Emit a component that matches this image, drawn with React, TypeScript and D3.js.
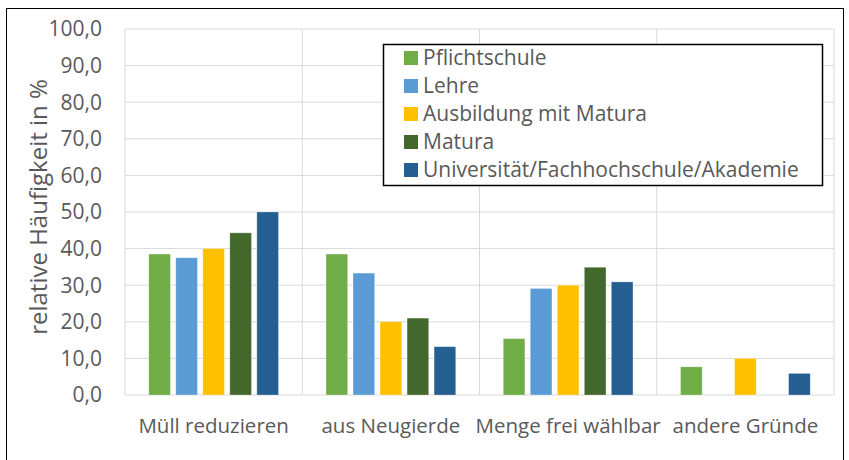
import React from "react";
import * as d3 from "d3";

const categories = ["Müll reduzieren", "aus Neugierde", "Menge frei wählbar", "andere Gründe"];
const seriesNames = [
  "Pflichtschule",
  "Lehre",
  "Ausbildung mit Matura",
  "Matura",
  "Universität/Fachhochschule/Akademie",
];
const colors = ["#70AD47", "#5B9BD5", "#FFC000", "#43682B", "#255E91"];

// values per series, in category order
const pflichtschule = [38.5, 38.5, 15.4, 7.7];
const lehre = [37.5, 33.3, 29.1, 0];
const ausbildungMatura = [40.0, 20.0, 30.0, 10.0];
const matura = [44.3, 21.0, 34.9, 0];
const uni = [50.0, 13.2, 30.9, 5.9];
const seriesValues = [pflichtschule, lehre, ausbildungMatura, matura, uni];

const yTicks = [0, 10, 20, 30, 40, 50, 60, 70, 80, 90, 100];

const W = 849;
const H = 460;
const margin = { top: 29, right: 15, bottom: 65, left: 125 };
const font = "'Open Sans', sans-serif";
const textColor = "#595959";

export default function App() {
  const plotW = W - margin.left - margin.right;
  const plotH = H - margin.top - margin.bottom;

  const x0 = d3.scaleBand<string>().domain(categories).range([0, plotW]).padding(0);
  const x1 = d3
    .scaleBand<number>()
    .domain(d3.range(seriesNames.length))
    .range([0, x0.bandwidth()])
    .paddingInner(0.2)
    .paddingOuter(0.88);
  const y = d3.scaleLinear().domain([0, 100]).range([plotH, 0]);
  const fmt = (v: number) => v.toFixed(1).replace(".", ",");

  return (
    <svg
      width={W}
      height={H}
      style={{ position: "absolute", left: 0, top: 0, background: "#fff" }}
      fontFamily={font}
    >
      <rect x={6.5} y={8.5} width={837} height={460} fill="none" stroke="#000" strokeWidth={1} />
      <g transform={`translate(${margin.left},${margin.top})`}>
        {yTicks.map((t) => (
          <line key={"g" + t} x1={0} x2={plotW} y1={y(t)} y2={y(t)} stroke="#d9d9d9" strokeWidth={1} />
        ))}
        {categories.map((c) => (
          <line
            key={"v" + c}
            x1={x0(c)!}
            x2={x0(c)!}
            y1={0}
            y2={plotH}
            stroke="#d9d9d9"
            strokeWidth={1}
          />
        ))}
        <line x1={plotW} x2={plotW} y1={0} y2={plotH} stroke="#d9d9d9" strokeWidth={1} />
        {yTicks.map((t) => (
          <text
            key={"t" + t}
            x={-23}
            y={y(t)}
            dy="0.35em"
            textAnchor="end"
            fontSize={21}
            fill={textColor}
          >
            {fmt(t)}
          </text>
        ))}
        {categories.map((c, ci) => (
          <g key={c} transform={`translate(${x0(c)},0)`}>
            {seriesValues.map((vals, si) =>
              vals[ci] > 0 ? (
                <rect
                  key={si}
                  x={x1(si)!}
                  y={y(vals[ci])}
                  width={x1.bandwidth()}
                  height={plotH - y(vals[ci])}
                  fill={colors[si]}
                  stroke="#fff"
                  strokeOpacity={0.35}
                  strokeWidth={0.75}
                />
              ) : null
            )}
            <text
              x={x0.bandwidth() / 2}
              y={plotH + 38}
              textAnchor="middle"
              fontSize={20.5}
              fill={textColor}
            >
              {c}
            </text>
          </g>
        ))}
      </g>
      <text
        transform={`translate(39,${margin.top + 178}) rotate(-90)`}
        textAnchor="middle"
        dy="0.35em"
        fontSize={24}
        fill={textColor}
      >
        relative Häufigkeit in %
      </text>
      <g transform="translate(383,44)">
        <rect x={0.5} y={0.5} width={439} height={141} fill="#fff" stroke="#000" strokeWidth={1.5} />
        {seriesNames.map((s, i) => (
          <g key={s} transform={`translate(0,${14 + i * 28})`}>
            <rect x={21} y={-7} width={14} height={14} fill={colors[i]} />
            <text x={40} y={0} dy="0.35em" fontSize={21} fill={textColor}>
              {s}
            </text>
          </g>
        ))}
      </g>
    </svg>
  );
}
